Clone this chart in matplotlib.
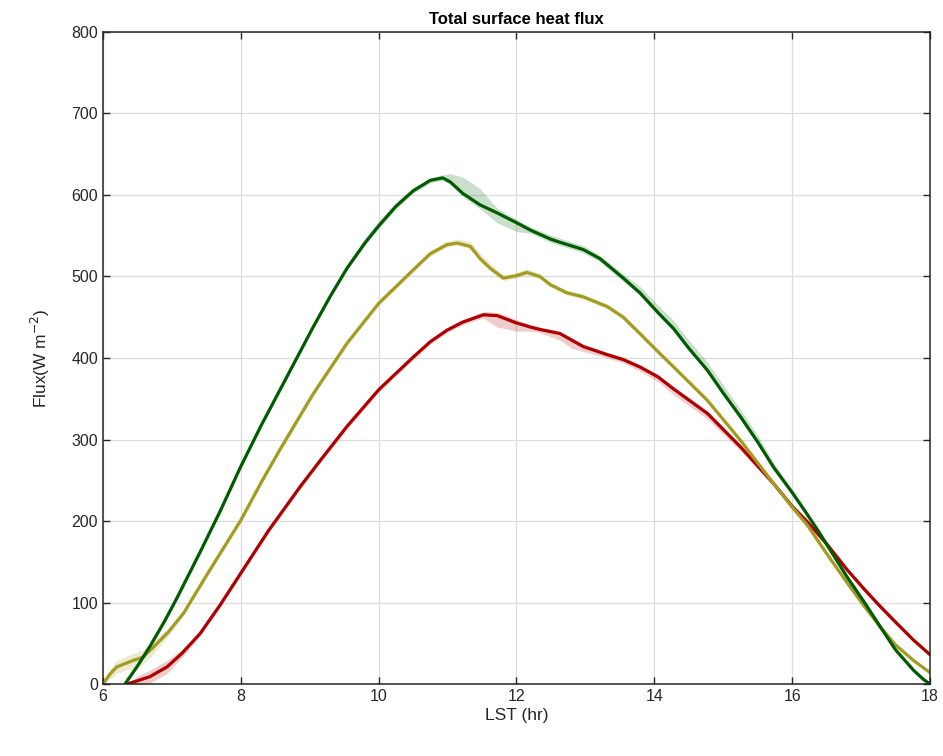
import numpy as np
import matplotlib
matplotlib.use("Agg")
from matplotlib import pyplot as plt

plt.rcParams['font.family'] = ['Liberation Sans', 'DejaVu Sans']

# Green series
hours_g = [6.32, 6.5, 6.68, 6.9, 7.07, 7.41, 7.7, 8.0, 8.3, 8.6, 9.05, 9.3, 9.54, 9.8,
           10.0, 10.25, 10.5, 10.75, 10.93, 11.04, 11.22, 11.47, 11.72, 12.0, 12.2,
           12.49, 12.63, 12.97, 13.21, 13.55, 13.79, 14.05, 14.28, 14.5, 14.77, 15.0,
           15.25, 15.5, 15.73, 16.0, 16.22, 16.4, 16.6, 16.8, 17.05, 17.28, 17.5,
           17.76, 17.9, 18.0]
flux_g = [0, 22, 46, 78, 105, 162, 212, 267, 318, 366, 438, 476, 510, 541,
          562, 586, 605, 618, 621, 616, 602, 588, 578, 566, 557,
          546, 542, 533, 522, 498, 480, 456, 436, 412, 385, 357,
          328, 297, 266, 235, 208, 185, 158, 131, 100, 70, 42,
          17, 6, 0]
lo_g = [0, 2, 2, 2, 2, 2, 2, 2, 2, 2, 2, 2, 2, 3,
        3, 3, 3, 3, 3, 3, 4, 5, 12, 11, 4,
        4, 4, 4, 4, 4, 3, 3, 3, 3, 3, 3,
        3, 3, 3, 3, 3, 3, 2, 2, 2, 2, 2,
        2, 1, 0]
hi_g = [0, 2, 2, 2, 2, 2, 2, 2, 2, 3, 3, 3, 4, 6,
        6, 5, 4, 3, 4, 10, 20, 20, 6, 4, 4,
        5, 5, 5, 4, 5, 8, 9, 10, 10, 10, 10,
        9, 8, 6, 4, 3, 3, 2, 2, 2, 2, 2,
        2, 1, 0]

# Olive series
hours_o = [6.0, 6.1, 6.2, 6.44, 6.58, 6.73, 6.95, 7.17, 7.5, 8.0, 8.3, 8.57, 9.05, 9.54,
           10.0, 10.5, 10.75, 10.99, 11.14, 11.33, 11.47, 11.62, 11.81, 12.0, 12.15,
           12.34, 12.49, 12.73, 12.97, 13.32, 13.55, 13.79, 14.05, 14.28, 14.77, 15.25,
           15.73, 16.0, 16.22, 16.5, 16.8, 17.05, 17.28, 17.5, 17.76, 18.0]
flux_o = [0, 12, 21, 29, 33, 45, 64, 87, 133, 201, 248, 288, 356, 418,
          467, 508, 528, 539, 541, 537, 522, 510, 498, 501, 505,
          500, 490, 480, 475, 463, 450, 430, 408, 389, 348, 299,
          246, 217, 195, 160, 124, 95, 70, 48, 29, 14]
lo_o = [0, 6, 8, 9, 9, 8, 5, 3, 3, 3, 3, 3, 3, 3,
        3, 3, 3, 3, 3, 3, 3, 3, 3, 3, 3,
        3, 3, 3, 3, 3, 3, 3, 3, 3, 3, 3,
        3, 3, 3, 3, 3, 2, 2, 2, 2, 1]
hi_o = [0, 6, 8, 9, 9, 8, 5, 3, 3, 3, 3, 3, 3, 3,
        3, 3, 4, 4, 5, 6, 7, 6, 4, 4, 5,
        3, 3, 3, 3, 3, 3, 3, 3, 3, 3, 3,
        3, 3, 3, 3, 3, 2, 2, 2, 2, 1]

# Red series
hours_r = [6.35, 6.5, 6.68, 6.93, 7.15, 7.41, 7.7, 8.0, 8.4, 8.86, 9.15, 9.54, 10.0,
           10.5, 10.75, 10.99, 11.22, 11.52, 11.72, 12.0, 12.2, 12.34, 12.63, 12.8,
           12.97, 13.32, 13.55, 13.79, 14.05, 14.28, 14.77, 15.25, 15.73, 16.0, 16.22,
           16.5, 16.8, 17.05, 17.28, 17.5, 17.76, 18.0]
flux_r = [0, 4, 9, 21, 38, 62, 97, 136, 188, 242, 274, 316, 361,
          401, 420, 434, 444, 453, 452, 443, 438, 435, 430, 422,
          414, 404, 398, 389, 377, 362, 332, 291, 246, 218, 199,
          172, 140, 116, 95, 76, 54, 36]
lo_r = [0, 6, 8, 8, 5, 3, 3, 3, 3, 3, 3, 3, 3,
        3, 3, 3, 3, 4, 14, 10, 5, 4, 8, 10,
        6, 4, 4, 5, 6, 7, 7, 5, 3, 3, 3,
        3, 3, 3, 3, 3, 2, 2]
hi_r = [0, 6, 8, 8, 5, 3, 3, 3, 3, 3, 3, 3, 3,
        3, 3, 3, 3, 4, 4, 4, 3, 3, 3, 3,
        3, 3, 3, 3, 3, 3, 3, 3, 3, 3, 3,
        3, 3, 3, 3, 3, 2, 2]

series = [
    (hours_r, flux_r, lo_r, hi_r, "#b00000"),
    (hours_o, flux_o, lo_o, hi_o, "#a39c20"),
    (hours_g, flux_g, lo_g, hi_g, "#005c00"),
]

fig = plt.figure(figsize=(9.43, 7.56), dpi=100)
ax = fig.add_axes([0.1092, 0.0952, 0.8770, 0.8625])

for h, f, lo, hi, col in series:
    f = np.array(f, dtype=float)
    ax.fill_between(h, f - np.array(lo), f + np.array(hi), color=col, alpha=0.2, lw=0)
for h, f, lo, hi, col in series:
    ax.plot(h, f, color=col, lw=2.3, solid_joinstyle="round", solid_capstyle="round")

ax.set_xlim(6, 18)
ax.set_ylim(0, 800)
ax.set_xticks(np.arange(6, 19, 2))
ax.set_yticks(np.arange(0, 801, 100))
ax.grid(True, color="#dcdcdc", lw=0.9)
ax.set_axisbelow(True)
ax.tick_params(direction="in", top=True, right=True, length=5, width=1,
               labelsize=11.5, colors="#262626")
for s in ax.spines.values():
    s.set_color("#262626")
    s.set_linewidth(1.1)

ax.set_title("Total surface heat flux", fontsize=12, fontweight="bold", pad=6)
ax.set_xlabel("LST (hr)", fontsize=12.5, color="#262626", labelpad=3)
ax.set_ylabel("Flux(W m$^{-2}$)", fontsize=12.5, color="#262626", labelpad=14)

fig.savefig("out.png", dpi=100)
